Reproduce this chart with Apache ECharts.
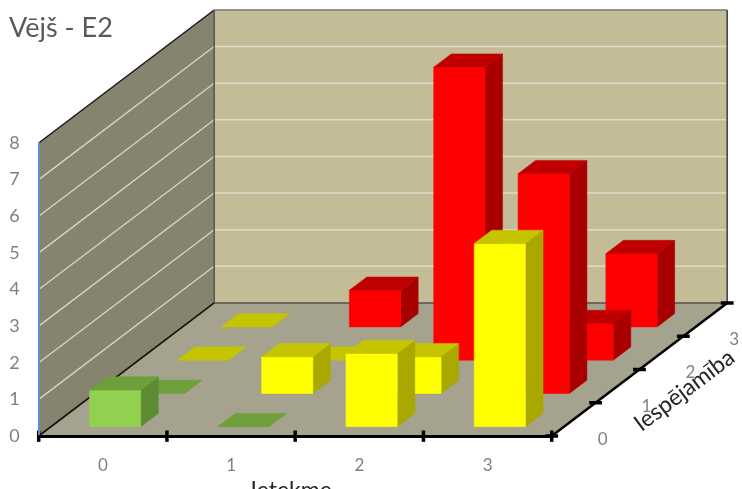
<!DOCTYPE html>
<html><head><meta charset="utf-8">
<style>html,body{margin:0;padding:0;background:#fff}#c{width:742px;height:489px}</style>
<script src="https://cdn.jsdelivr.net/npm/echarts@6/dist/echarts.min.js"></script>
</head><body><div id="c"></div>
<script>
const titleText = 'Vējš - E2';
const impactLabels = ['0', '1', '2', '3'];
const likelihoodLabels = ['0', '1', '2', '3'];
const impactName = 'Ietekme';
const likelihoodName = 'Iespējamība';
const valueTicks = [1, 2, 3, 4, 5, 6, 7];
// counts per impact column, one list per likelihood row (null: no bar)
const likelihood0 = [1, 0, 2, 5];
const likelihood1 = [0, 1, 1, 6];
const likelihood2 = [0, 0, 8, 1];
const likelihood3 = [0, 1, null, 2];
const colours0 = ['green', 'green', 'yellow', 'yellow'];
const colours1 = ['green', 'yellow', 'yellow', 'red'];
const colours2 = ['yellow', 'yellow', 'red', 'red'];
const colours3 = ['yellow', 'red', 'red', 'red'];

const rows = [likelihood0, likelihood1, likelihood2, likelihood3];
const colourRows = [colours0, colours1, colours2, colours3];
const palette = {
  green:  {front: '#92D050', top: '#6F9F3B', side: '#5E8C33'},
  yellow: {front: '#FFFF00', top: '#C4C400', side: '#A8A800'},
  red:    {front: '#FF0000', top: '#C00000', side: '#A80000'}
};
// oblique projection of the depth axis onto the x/y scales
const DEPTH_X = 0.3421, DEPTH_Y = 0.908;
const BAR_X0 = 0.3, BAR_X1 = 0.7, BAR_D0 = 0.28, BAR_D1 = 0.68;

const barData = [];
for (let d = rows.length - 1; d >= 0; d--) {
  rows[d].forEach((v, x) => { if (v !== null) barData.push([x, d, v, colourRows[d][x]]); });
}
function proj(api, x, d, v) { return api.coord([x + d * DEPTH_X, v + d * DEPTH_Y]); }
function poly(points, fill) {
  return {type: 'polygon', shape: {points}, style: {fill, stroke: fill, lineWidth: 0.5}};
}
function line(points, stroke, lineWidth) {
  return {type: 'polyline', shape: {points}, style: {fill: null, stroke, lineWidth}};
}
function label(pos, text, o) {
  return {type: 'text', x: pos[0], y: pos[1], rotation: o.rotation || 0,
    style: {text, fill: o.fill, fontFamily: 'Lato', fontSize: o.size, align: 'center', verticalAlign: 'middle'}};
}
function renderFrame(params, api) {
  const p = (x, d, v) => proj(api, x, d, v);
  const kids = [];
  kids.push(poly([p(0,0,0), p(0,4,0), p(0,4,8), p(0,0,8)], '#86836F'));
  kids.push(poly([p(0,4,0), p(4,4,0), p(4,4,8), p(0,4,8)], '#C4BC96'));
  kids.push(poly([p(0,0,0), p(4,0,0), p(4,4,0), p(0,4,0)], '#A5A28E'));
  valueTicks.forEach(v => {
    kids.push(line([p(0,0,v), p(0,4,v)], '#D6D6CC', 1.3));
    kids.push(line([p(0,4,v), p(4,4,v)], '#DEDBCB', 1.5));
  });
  kids.push(line([p(0,0,8), p(0,4,8)], '#1A1A1A', 1.5));
  kids.push(line([p(0,4,8), p(4,4,8)], '#7A7A70', 1.3));
  kids.push(line([p(4,4,8), p(4,4,0)], '#4A4A44', 1.6));
  kids.push(line([p(0,4,8), p(0,4,0)], '#55534A', 1.5));
  kids.push(line([p(0,4,0), p(4,4,0)], '#55534A', 1.5));
  kids.push(line([p(0,0,0), p(0,4,0)], '#111', 1.6));
  kids.push(line([p(4,0,0), p(4,4,0)], '#000', 2.5));
  for (let x = 0; x <= 4; x++) {
    kids.push(line([p(x,0,-0.16), p(x,0,0.15)], '#000', 3.5));
  }
  for (let d = 0; d <= 4; d++) {
    const c = p(4, d, 0);
    kids.push(line([p(4 - 0.05, d, 0), p(4 + 0.05, d, 0)], '#000', 3.5));
    if (d < 4) {
      const mid = p(4, d + 0.5, 0);
      kids.push(label([mid[0] + 29, mid[1] + 20], likelihoodLabels[d], {fill: '#7F7F7F', size: 17}));
    }
  }
  const nameAt = p(4, 2, 0);
  kids.push(label([nameAt[0] + 45, nameAt[1] + 21], likelihoodName, {fill: '#262626', size: 23, rotation: 37 * Math.PI / 180}));
  return {type: 'group', children: kids};
}
function renderBar(params, api) {
  const x = api.value(0), d = api.value(1), v = api.value(2);
  const c = palette[barData[params.dataIndex][3]];
  const x0 = x + BAR_X0, x1 = x + BAR_X1, d0 = d + BAR_D0, d1 = d + BAR_D1;
  const p = (a, b, h) => proj(api, a, b, h);
  const kids = [];
  if (v > 0) {
    kids.push(poly([p(x1,d0,0), p(x1,d1,0), p(x1,d1,v), p(x1,d0,v)], c.side));
    kids.push(poly([p(x0,d0,0), p(x1,d0,0), p(x1,d0,v), p(x0,d0,v)], c.front));
  }
  kids.push(poly([p(x0,d0,v), p(x1,d0,v), p(x1,d1,v), p(x0,d1,v)], c.top));
  return {type: 'group', children: kids};
}
const chart = echarts.init(document.getElementById('c'), null, {renderer: 'canvas'});
chart.setOption({
  animation: false,
  backgroundColor: '#fff',
  title: {text: titleText, left: 9, top: 15, padding: 0,
    textStyle: {fontFamily: 'Lato', fontWeight: 'normal', fontSize: 27, color: '#595959'}},
  grid: {left: 38.7, right: 190.3, top: 143, bottom: 53, containLabel: false, outerBoundsMode: 'none'},
  xAxis: [
    {type: 'category', data: impactLabels, z: 5, silent: true,
      axisLine: {lineStyle: {color: '#000', width: 3}},
      axisTick: {show: false},
      axisLabel: {fontFamily: 'Lato', fontSize: 17, color: '#7F7F7F', margin: 21},
      name: impactName, nameLocation: 'middle', nameGap: 42,
      nameTextStyle: {fontFamily: 'Lato', fontSize: 23, color: '#262626', padding: [0, 8, 0, 0]}},
    {type: 'value', min: 0, max: 4, interval: 1, show: false}
  ],
  yAxis: {type: 'value', min: 0, max: 8, interval: 1, z: 5, silent: true,
    axisLine: {show: true, lineStyle: {color: '#5B8FD0', width: 2}},
    axisTick: {show: false}, splitLine: {show: false},
    axisLabel: {fontFamily: 'Lato', fontSize: 18, color: '#7F7F7F', margin: 19, align: 'right'}},
  series: [
    {type: 'custom', name: 'frame', xAxisIndex: 1, yAxisIndex: 0, z: 1, silent: true,
      data: [[0, 0]], renderItem: renderFrame},
    {type: 'custom', name: 'bars', xAxisIndex: 1, yAxisIndex: 0, z: 2, silent: true,
      data: barData.map(r => r.slice(0, 3)), renderItem: renderBar}
  ]
});
</script></body></html>
